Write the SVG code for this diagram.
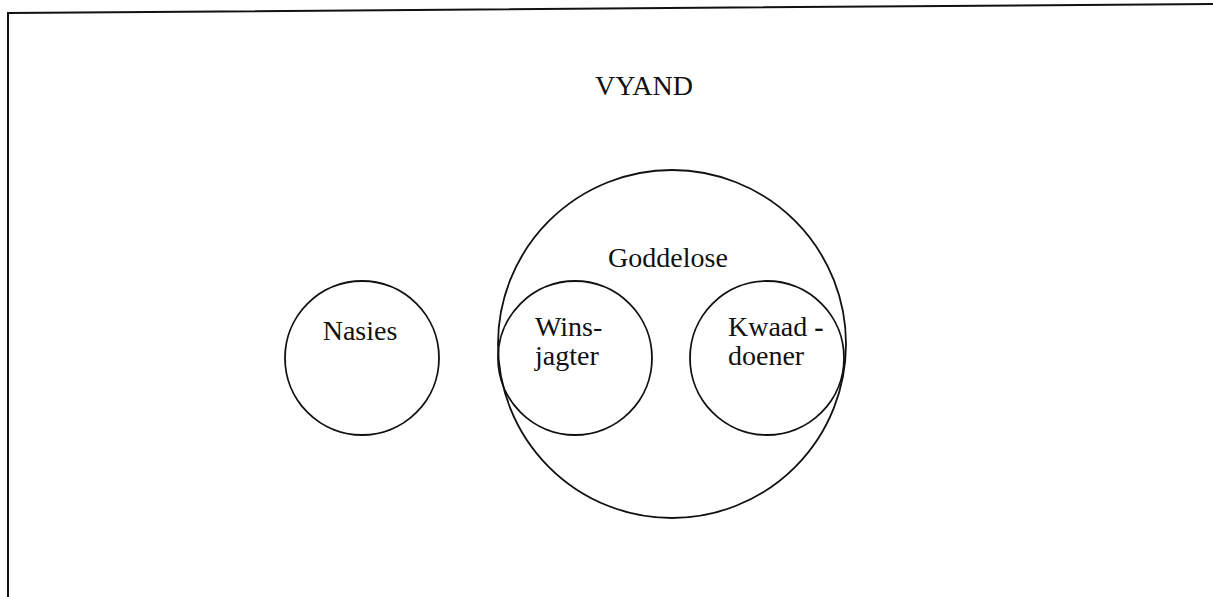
<svg xmlns="http://www.w3.org/2000/svg" width="1213" height="597" viewBox="0 0 1213 597">
<style>
.c{fill:none;stroke:#111;stroke-width:1.8}
.t{font-family:"Liberation Serif","Times New Roman",serif;font-size:28px;fill:#111}
.m{text-anchor:middle}
.b{fill:none;stroke:#111;stroke-width:2}
</style>
<rect width="1213" height="597" fill="#fff"/>
<g id="frame"><polyline class="b" points="8,597 8,13 1213,4"/></g>
<g id="title"><text class="t m" x="644" y="95">VYAND</text></g>
<g id="nasies"><circle class="c" cx="362" cy="358" r="77"/><text class="t m" x="360" y="340">Nasies</text></g>
<g id="goddelose"><circle class="c" cx="672" cy="344" r="174"/><text class="t m" x="668" y="267">Goddelose</text></g>
<g id="winsjagter"><circle class="c" cx="575" cy="358" r="77"/><text class="t" x="535" y="336">Wins-</text><text class="t" x="535" y="365">jagter</text></g>
<g id="kwaaddoener"><circle class="c" cx="767" cy="358" r="77"/><text class="t" x="728" y="336">Kwaad<tspan dx="7" font-weight="bold">-</tspan></text><text class="t" x="728" y="365">doener</text></g>
<g id="connectors"></g>
</svg>
